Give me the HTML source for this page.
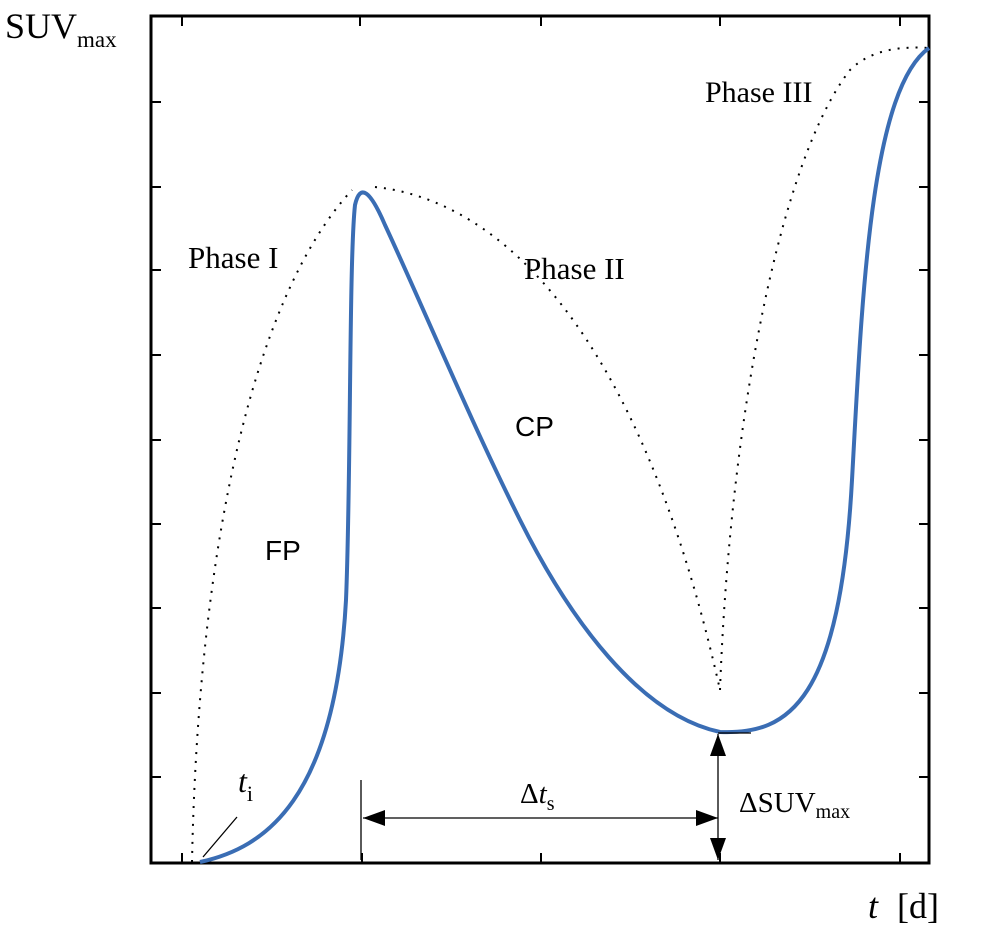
<!DOCTYPE html>
<html><head><style>
html,body{margin:0;padding:0;background:#fff;}
svg{display:block;}
.s{font-family:"Liberation Serif",serif;fill:#000;}
.a{font-family:"Liberation Sans",sans-serif;fill:#000;}
</style></head><body>
<svg width="1000" height="929" viewBox="0 0 1000 929">
<defs>
<marker id="ar" viewBox="0 0 10 10" refX="10" refY="5" markerWidth="22" markerHeight="16" markerUnits="userSpaceOnUse" orient="auto-start-reverse" preserveAspectRatio="none">
<path d="M0,0 L10,5 L0,10 Z" fill="#000"/></marker>
</defs>
<rect x="151" y="16" width="778" height="847" fill="none" stroke="#000" stroke-width="3"/>
<g stroke="#000" stroke-width="2">
<path d="M151,102h10M151,187h10M151,270h10M151,355h10M151,440h10M151,524h10M151,608h10M151,693h10M151,777h10"/>
<path d="M929,102h-10M929,187h-10M929,270h-10M929,355h-10M929,440h-10M929,524h-10M929,608h-10M929,693h-10M929,777h-10"/>
<path d="M182,863v-10M362,863v-10M541,863v-10M720,863v-10M900,863v-10"/>
<path d="M182,16v10M360,16v10M541,16v10M720,16v10M900,16v10"/>
</g>
<g fill="none" stroke="#000" stroke-width="2" stroke-dasharray="2 7">
<path d="M192,862 C198,560 250,300 352,190"/>
<path d="M375,187 C500,200 640,330 720,690"/>
<path d="M720,690 C730,420 780,160 850,70 C870,50 900,46 929,48"/>
</g>
<path d="M200,862 C265,848 335,800 346,600 C351,480 349,260 355,205 C360,183 370,190 385,225 C420,300 470,420 520,520 C570,620 640,715 720,732 C790,735 840,700 852,480 C862,300 870,90 929,48" fill="none" stroke="#3a6db4" stroke-width="4"/>
<g stroke="#000" stroke-width="1.3" fill="none">
<path d="M237,817 L203,857"/>
<path d="M361,780 V860"/>
<path d="M363,818 H718" marker-start="url(#ar)" marker-end="url(#ar)"/>
<path d="M718,734 V860" marker-start="url(#ar)" marker-end="url(#ar)"/>
<path d="M718,733 H751"/>
</g>
<text class="s" x="5" y="38" font-size="36">SUV<tspan font-size="23" dy="9">max</tspan></text>
<text class="s" x="188" y="268" font-size="31">Phase I</text>
<text class="s" x="524" y="279" font-size="31">Phase II</text>
<text class="s" x="705" y="102" font-size="30">Phase III</text>
<text class="a" x="515" y="436" font-size="28">CP</text>
<text class="a" x="265" y="560" font-size="28">FP</text>
<text class="s" x="238" y="792" font-size="32" font-style="italic">t<tspan font-style="normal" font-size="22" dy="9">i</tspan></text>
<text class="s" x="520" y="803" font-size="29">Δ<tspan font-style="italic">t</tspan><tspan font-size="20" dy="7">s</tspan></text>
<text class="s" x="739" y="812" font-size="29">ΔSUV<tspan font-size="20" dy="6">max</tspan></text>
<text class="s" x="868" y="918" font-size="36"><tspan font-style="italic">t</tspan><tspan x="897">[d]</tspan></text>
</svg>
</body></html>
